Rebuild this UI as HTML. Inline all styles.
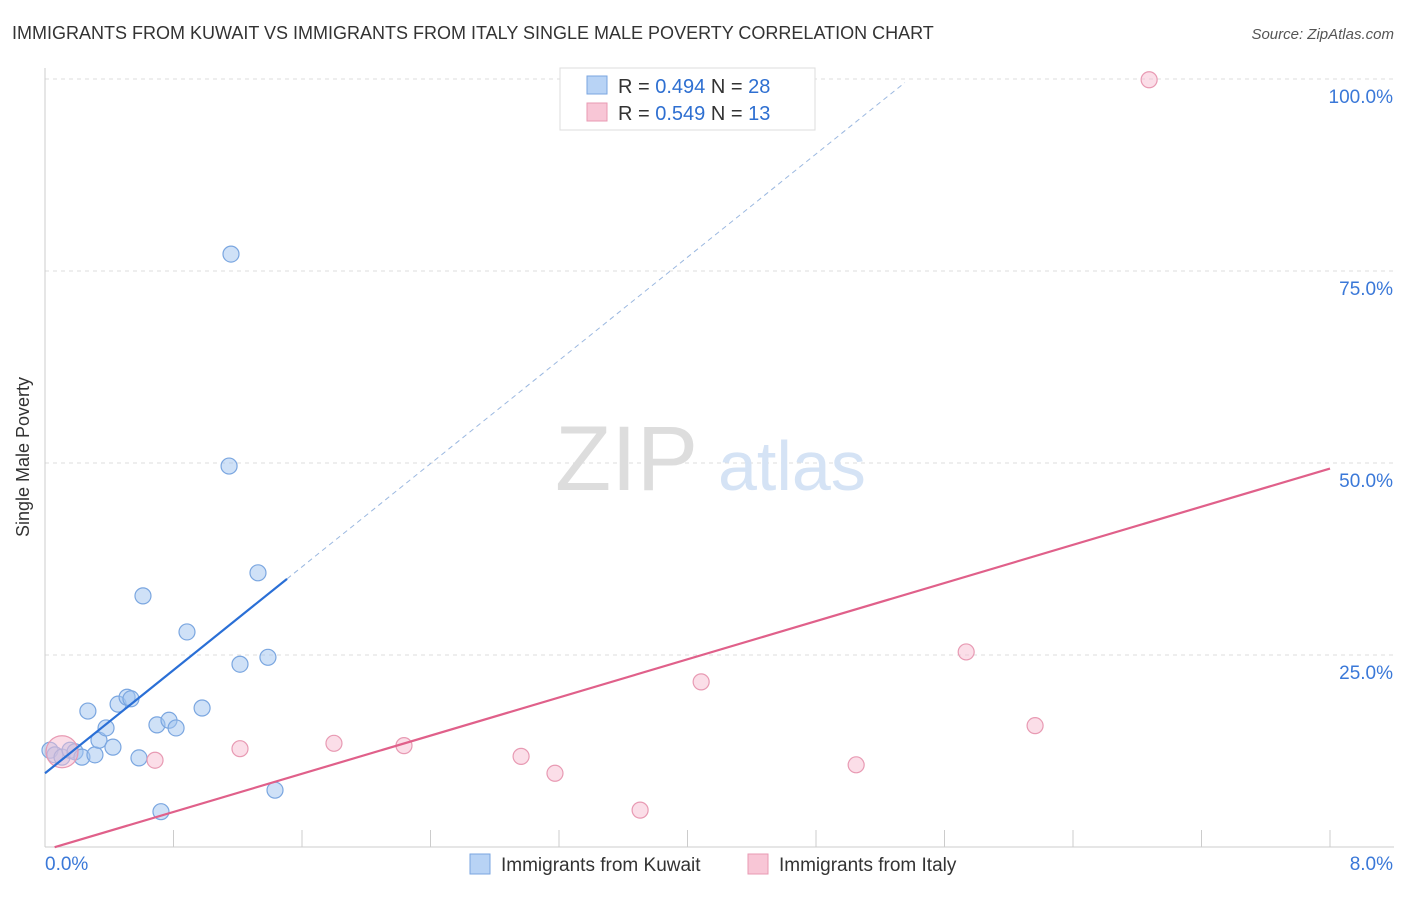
<!DOCTYPE html>
<html><head><meta charset="utf-8"><style>
body{margin:0;background:#fff;font-family:"Liberation Sans",sans-serif;}
svg text{font-family:"Liberation Sans",sans-serif;}
</style></head><body>
<svg id="c" width="1406" height="892">
<text x="12" y="39" font-size="18" fill="#333">IMMIGRANTS FROM KUWAIT VS IMMIGRANTS FROM ITALY SINGLE MALE POVERTY CORRELATION CHART</text>
<text x="1394" y="39" font-size="15" fill="#555" font-style="italic" text-anchor="end">Source: ZipAtlas.com</text>
<text x="29" y="457" font-size="18" fill="#333" text-anchor="middle" transform="rotate(-90 29 457)">Single Male Poverty</text>
<g id="grid"></g>
<g><text x="555" y="490" font-size="92" fill="#ddd" font-family="Liberation Serif">ZIP</text><text x="718" y="490" font-size="70" fill="#d5e3f5">atlas</text></g>
<g id="marks"></g>
<g>
<rect x="560" y="68" width="255" height="62" fill="#fff" stroke="#ddd"/>
<rect x="587" y="76" width="20" height="18" fill="#b8d3f5" stroke="#7aa6e0"/>
<rect x="587" y="103" width="20" height="18" fill="#f8c6d6" stroke="#e89ab3"/>
<text x="618" y="93" font-size="20" fill="#333">R = <tspan fill="#2e6fd1">0.494</tspan>   N = <tspan fill="#2e6fd1">28</tspan></text>
<text x="618" y="120" font-size="20" fill="#333">R = <tspan fill="#2e6fd1">0.549</tspan>   N = <tspan fill="#2e6fd1"> 13</tspan></text>
</g>
<g>
<rect x="470" y="854" width="20" height="20" fill="#b8d3f5" stroke="#7aa6e0"/>
<text x="501" y="871" font-size="19" fill="#333">Immigrants from Kuwait</text>
<rect x="748" y="854" width="20" height="20" fill="#f8c6d6" stroke="#e89ab3"/>
<text x="779" y="871" font-size="19" fill="#333">Immigrants from Italy</text>
</g>
</svg>
<script>
const kuwaitX=[0.031,0.062,0.106,0.156,0.187,0.230,0.267,0.311,0.336,0.380,0.423,0.455,0.511,0.535,0.585,0.610,0.697,0.722,0.772,0.816,0.884,0.978,1.146,1.158,1.214,1.326,1.388,1.432];
const kuwaitY=[12.6,12.0,11.7,12.6,12.4,11.7,17.7,12.0,13.9,15.5,13.0,18.6,19.5,19.3,11.6,32.7,15.9,4.6,16.5,15.5,28.0,18.1,49.6,77.2,23.8,35.7,24.7,7.4];
const italyX=[0.106,0.685,1.214,1.799,2.235,2.964,3.175,3.705,4.085,5.050,5.735,6.164,6.874];
const italyY=[12.4,11.3,12.8,13.5,13.2,11.8,9.6,4.8,21.5,10.7,25.4,15.8,99.9];
const kuwaitTrend=[9.6,16.8]; // intercept, slope
const italyTrend=[-0.4,6.21];
const yTicks=[25,50,75,100];
const yTickLabels=["25.0%","50.0%","75.0%","100.0%"];
const xTicks=[0,0.8,1.6,2.4,3.2,4,4.8,5.6,6.4,7.2,8];
const NS="http://www.w3.org/2000/svg";
const X=v=>45+v/8*1285, Y=v=>847-v/25*192;
function mk(t,a,p){const e=document.createElementNS(NS,t);for(const k in a)e.setAttribute(k,a[k]);p.appendChild(e);return e;}
const g=document.getElementById('grid'), m=document.getElementById('marks');
yTicks.forEach((t,i)=>{
 const l=mk('line',{x1:45,x2:1394,y1:Y(t),y2:Y(t),stroke:'#ddd','stroke-dasharray':'4,4'},g);
 
 
 const tx=mk('text',{x:1393,y:Y(t)+24,'font-size':19,fill:'#3a78d8','text-anchor':'end'},g);
 tx.textContent=yTickLabels[i];
 
 
});
const ax=mk('line',{x1:45,x2:45,y1:68,y2:847,stroke:'#ccc'},g);


const bx=mk('line',{x1:45,x2:1394,y1:847,y2:847,stroke:'#ccc'},g);


xTicks.forEach(t=>{const l=mk('line',{x1:X(t),x2:X(t),y1:830,y2:847,stroke:'#ccc'},g);
 
 });
let t0=mk('text',{x:45,y:870,'font-size':19,fill:'#3a78d8'},g);t0.textContent='0.0%';


let t1=mk('text',{x:1393,y:870,'font-size':19,fill:'#3a78d8','text-anchor':'end'},g);t1.textContent='8.0%';


kuwaitX.forEach((x,i)=>{const c=mk('circle',{cx:X(x),cy:Y(kuwaitY[i]),r:8,fill:'rgba(160,196,240,0.5)',stroke:'#7aa6e0','stroke-width':1.2},m);
 
 });
italyX.forEach((x,i)=>{const c=mk('circle',{cx:X(x),cy:Y(italyY[i]),r:i==0?16:8,fill:'rgba(248,190,210,0.5)',stroke:'#e89ab3','stroke-width':1.2},m);
 
 });
const ty=(tr,x)=>tr[0]+tr[1]*x;
let l1=mk('line',{x1:X(0),y1:Y(ty(kuwaitTrend,0)),x2:X(1.507),y2:Y(ty(kuwaitTrend,1.507)),stroke:'#2a6fd6','stroke-width':2.2},m);


let l2=mk('line',{x1:X(1.507),y1:Y(ty(kuwaitTrend,1.507)),x2:X(5.353),y2:Y(ty(kuwaitTrend,5.353)),stroke:'#9bb8e0','stroke-width':1,'stroke-dasharray':'5,4'},m);


let l3=mk('line',{x1:X(0.06),y1:Y(ty(italyTrend,0.06)),x2:X(8),y2:Y(ty(italyTrend,8)),stroke:'#e0608a','stroke-width':2.2},m);


</script>
</body></html>
